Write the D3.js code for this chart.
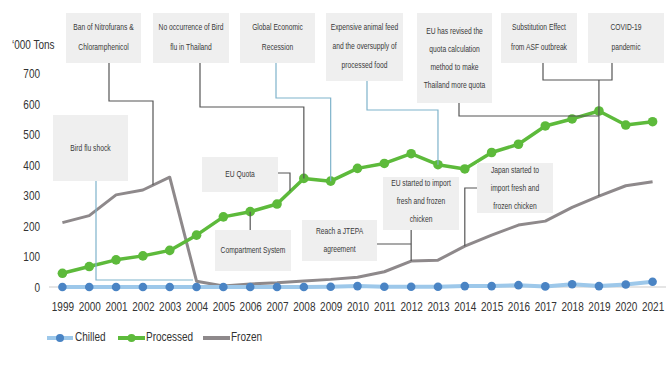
<!DOCTYPE html>
<html>
<head>
<meta charset="utf-8">
<script src="https://cdn.jsdelivr.net/npm/d3@7"></script>
<style>
  html, body { margin: 0; padding: 0; background: #fff; }
  svg { display: block; }
  .tick-lbl { font-family: "Liberation Sans", Arial, sans-serif; font-size: 12.5px; fill: #333; }
  .note { font-family: "Liberation Sans", Arial, sans-serif; font-size: 8.4px; fill: #3a3a3a; }
</style>
</head>
<body>
<svg id="chart" width="671" height="370"></svg>
<script>
// Thai chicken exports by type, thousand tons
const years = ["1999","2000","2001","2002","2003","2004","2005","2006","2007","2008","2009","2010",
               "2011","2012","2013","2014","2015","2016","2017","2018","2019","2020","2021"];
const chilled   = [0,0,0,0,0,0,0,0,0,0,1,3,1,1,1,3,3,6,2,9,3,8,17];
const processed = [45,67,89,102,120,170,230,247,272,356,347,389,405,437,401,387,441,468,528,551,577,531,542];
const frozen    = [211,234,302,318,360,19,3,10,14,20,25,32,50,85,88,134,170,203,216,261,298,332,345];
const yTicks = [0,100,200,300,400,500,600,700];
const seriesNames = ["Chilled","Processed","Frozen"];

const svg = d3.select("#chart");
const x = d3.scalePoint().domain(years).range([49, 666]).padding(0.5);
const y = d3.scaleLinear().domain([0, 700]).range([287, 73.5]);

const C = {
  chilledLine: "#9dc8ea", chilledDot: "#4a84c4",
  processed: "#5dba3b", frozen: "#8e898b",
  noteFill: "#efefef", leadDark: "#555", leadTeal: "#7fb3cb"
};
const NARROW = 0.8; // horizontal squeeze for the condensed lettering

// text placed at (tx,ty), squeezed horizontally
function narrowText(parent, tx, ty, str, cls, anchor) {
  return parent.append("g").attr("transform", `translate(${tx},${ty})`)
    .append("text").attr("class", cls).attr("transform", `scale(${NARROW},1)`)
    .attr("text-anchor", anchor || "start").attr("dominant-baseline", "middle").text(str);
}

// baseline
svg.append("line").attr("x1", 49).attr("x2", 666).attr("y1", y(0)).attr("y2", y(0))
  .attr("stroke", "#dcdcdc").attr("stroke-width", 1.5);

// y axis labels
const yAxis = d3.axisLeft(y).tickValues(yTicks).tickSize(0).tickPadding(0);
const ya = svg.append("g").attr("transform", "translate(40,0)").call(yAxis);
ya.select(".domain").remove();
ya.selectAll("text").attr("class", "tick-lbl").attr("font-size", null).attr("font-family", null)
  .attr("fill", null).attr("transform", `scale(${NARROW},1)`);
narrowText(svg, 12, 46, "\u2018000 Tons", "tick-lbl");

// x axis labels
const xAxis = d3.axisBottom(x).tickSize(0).tickPadding(0);
const xa = svg.append("g").attr("transform", "translate(0,302)").call(xAxis);
xa.select(".domain").remove();
xa.selectAll("text").attr("class", "tick-lbl").attr("font-size", null).attr("font-family", null)
  .attr("fill", null).attr("transform", `scale(${NARROW},1)`);

const ptsOf = arr => years.map((yr, i) => [x(yr), y(arr[i])]);
const line = d3.line();

// annotation boxes
const notes = [
  { box: [66, 13, 75, 50], lines: ["Ban of Nitrofurans &", "Chloramphenicol"], ly: [28, 48] },
  { box: [153, 13, 76, 50], lines: ["No occurrence of Bird", "flu in Thailand"], ly: [28, 48] },
  { box: [240, 13, 75, 50], lines: ["Global Economic", "Recession"], ly: [28, 48] },
  { box: [326, 13, 77, 68], lines: ["Expensive animal feed", "and the oversupply of", "processed food"], ly: [28, 47, 66] },
  { box: [417, 13, 75, 90], lines: ["EU has revised the", "quota calculation", "method to make", "Thailand more quota"], ly: [32, 50, 68, 86] },
  { box: [501, 13, 76, 50], lines: ["Substitution Effect", "from ASF outbreak"], ly: [28, 48] },
  { box: [588, 13, 76, 50], lines: ["COVID-19", "pandemic"], ly: [28, 48] },
  { box: [53, 115, 75, 66], lines: ["Bird flu shock"], ly: [149] },
  { box: [202, 157, 76, 35], lines: ["EU Quota"], ly: [175] },
  { box: [215, 230, 76, 41], lines: ["Compartment System"], ly: [251] },
  { box: [302, 220, 75, 41], lines: ["Reach a JTEPA", "agreement"], ly: [232, 250] },
  { box: [383, 177, 76, 53], lines: ["EU started to import", "fresh and frozen", "chicken"], ly: [184, 202, 220] },
  { box: [477, 163, 76, 50], lines: ["Japan started to", "import fresh and", "frozen chicken"], ly: [171, 189, 207] }
];

// leader lines from the boxes to the events on the series
const yi = (arr, yr) => y(arr[years.indexOf(yr)]);
const leaders = [
  { c: C.leadDark, p: [[109,63],[109,101],[153,101],[153,185]] },
  { c: C.leadDark, p: [[200,63],[200,107],[x("2008"),107],[x("2008"),yi(processed,"2008")]] },
  { c: C.leadTeal, p: [[276,63],[276,98],[x("2009"),98],[x("2009"),yi(processed,"2009")]] },
  { c: C.leadTeal, p: [[367,81],[367,110],[x("2013"),110],[x("2013"),yi(processed,"2013")]] },
  { c: C.leadDark, p: [[459,103],[459,116],[x("2019"),116]] },
  { c: C.leadDark, p: [[543,63],[543,80],[612,80],[612,63]] },
  { c: C.leadDark, p: [[x("2019"),80],[x("2019"),yi(frozen,"2019")]] },
  { c: C.leadTeal, p: [[96,181],[96,280],[193,280]] },
  { c: C.leadDark, p: [[278,173],[290,173],[290,191]] },
  { c: C.leadDark, p: [[x("2006"),230],[x("2006"),yi(processed,"2006")]] },
  { c: C.leadDark, p: [[377,244],[x("2012"),244]] },
  { c: C.leadDark, p: [[x("2012"),230],[x("2012"),yi(frozen,"2012")]] },
  { c: C.leadDark, p: [[477,188],[x("2014"),188],[x("2014"),yi(frozen,"2014")]] }
];

// series lines
svg.append("path").attr("d", line(ptsOf(frozen))).attr("fill", "none")
  .attr("stroke", C.frozen).attr("stroke-width", 3).attr("stroke-linejoin", "round");
svg.append("path").attr("d", line(ptsOf(chilled))).attr("fill", "none")
  .attr("stroke", C.chilledLine).attr("stroke-width", 4).attr("stroke-linejoin", "round");
svg.append("path").attr("d", line(ptsOf(processed))).attr("fill", "none")
  .attr("stroke", C.processed).attr("stroke-width", 3.5).attr("stroke-linejoin", "round");

svg.append("g").selectAll("circle").data(chilled).join("circle")
  .attr("cx", (d, i) => x(years[i])).attr("cy", d => y(d)).attr("r", 4.3).attr("fill", C.chilledDot);
svg.append("g").selectAll("circle").data(processed).join("circle")
  .attr("cx", (d, i) => x(years[i])).attr("cy", d => y(d)).attr("r", 4.8).attr("fill", C.processed);

// leaders
const lg = svg.append("g");
leaders.forEach(l => lg.append("path").attr("d", line(l.p)).attr("fill", "none")
  .attr("stroke", l.c).attr("stroke-width", 1.2));

// note boxes
const ng = svg.append("g");
notes.forEach(n => {
  const [bx, by, bw, bh] = n.box;
  ng.append("rect").attr("x", bx).attr("y", by).attr("width", bw).attr("height", bh).attr("fill", C.noteFill);
  n.lines.forEach((t, k) => narrowText(ng, bx + bw / 2, n.ly[k], t, "note", "middle"));
});

// legend
const leg = svg.append("g").attr("transform", "translate(0,338)");
const legItems = [
  { name: seriesNames[0], x0: 47, x1: 73, stroke: C.chilledLine, dot: C.chilledDot, tx: 75 },
  { name: seriesNames[1], x0: 118, x1: 145, stroke: C.processed, dot: C.processed, tx: 146 },
  { name: seriesNames[2], x0: 203, x1: 230, stroke: C.frozen, dot: null, tx: 231 }
];
legItems.forEach(it => {
  leg.append("line").attr("x1", it.x0).attr("x2", it.x1).attr("y1", 0).attr("y2", 0)
    .attr("stroke", it.stroke).attr("stroke-width", 4);
  if (it.dot) leg.append("circle").attr("cx", (it.x0 + it.x1) / 2).attr("cy", 0).attr("r", 4).attr("fill", it.dot);
  narrowText(leg, it.tx, 0, it.name, "tick-lbl");
});
</script>
</body>
</html>
